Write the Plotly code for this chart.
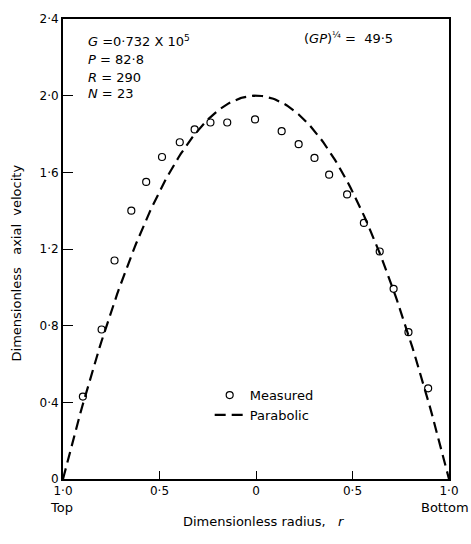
import numpy as np
import plotly.graph_objects as go

# Measured points (signed radius: negative = top side, positive = bottom side)
r_measured = [-0.897, -0.80, -0.733, -0.646, -0.569, -0.487, -0.395, -0.318, -0.236, -0.149,
              -0.005, 0.133, 0.221, 0.303, 0.379, 0.472, 0.559, 0.641, 0.713, 0.790, 0.892]
u_measured = [0.43, 0.78, 1.14, 1.40, 1.55, 1.68, 1.757, 1.824, 1.86, 1.86,
              1.876, 1.815, 1.747, 1.675, 1.588, 1.485, 1.336, 1.187, 0.992, 0.766, 0.473]

# Parabolic profile sample points
r_parab = list(np.linspace(-1, 1, 201))
u_parab = [2 * (1 - r * r) for r in r_parab]

x_tickvals = [-1.0, -0.5, 0.0, 0.5, 1.0]
x_ticktext = ["1·0", "0·5", "0", "0·5", "1·0"]
y_tickvals = [0, 0.4, 0.8, 1.2, 1.6, 2.0, 2.4]
y_ticktext = ["0", "0·4", "0·8", "1·2", "1·6", "2·0", "2·4"]

FONT = "DejaVu Sans"

fig = go.Figure()
fig.add_trace(go.Scatter(
    x=r_measured, y=u_measured, mode="markers", name="Measured",
    marker=dict(symbol="circle-open", size=7, color="black", line=dict(width=1.2)),
))
fig.add_trace(go.Scatter(
    x=r_parab, y=u_parab, mode="lines", name="Parabolic",
    line=dict(color="black", width=2.2, dash="11px,6px"),
))

fig.update_layout(
    width=471, height=544,
    margin=dict(l=63, r=18, t=12, b=65),
    paper_bgcolor="white", plot_bgcolor="white",
    font=dict(family=FONT, size=12, color="black"),
    showlegend=True,
    legend=dict(x=0.38, y=0.215, xanchor="left", yanchor="top",
                bgcolor="rgba(0,0,0,0)", font=dict(size=13), itemwidth=30,
                tracegroupgap=0),
    xaxis=dict(range=[-1, 1], tickvals=x_tickvals, ticktext=x_ticktext,
               ticks="inside", ticklen=8, tickwidth=1, tickcolor="black",
               showline=True, linecolor="black", linewidth=2, mirror=True,
               showgrid=False, zeroline=False, tickfont=dict(size=12)),
    yaxis=dict(range=[0, 2.4], tickvals=y_tickvals, ticktext=y_ticktext,
               ticks="inside", ticklen=10, tickwidth=1, tickcolor="black",
               showline=True, linecolor="black", linewidth=2, mirror=True,
               showgrid=False, zeroline=False, tickfont=dict(size=12)),
)

ann = [
    dict(x=0.06, y=0.953, text="<i>G</i> =0·732 X 10<sup>5</sup>", xanchor="left"),
    dict(x=0.06, y=0.911, text="<i>P</i> = 82·8", xanchor="left"),
    dict(x=0.06, y=0.873, text="<i>R</i> = 290", xanchor="left"),
    dict(x=0.06, y=0.837, text="<i>N</i> = 23", xanchor="left"),
    dict(x=0.62, y=0.958, text="(<i>GP</i>)<sup>¼</sup> =  49·5", xanchor="left"),
]
for a in ann:
    fig.add_annotation(xref="paper", yref="paper", showarrow=False,
                       yanchor="middle", font=dict(size=13), **a)

fig.add_annotation(xref="paper", yref="paper", x=-0.005, y=-0.062, text="Top",
                   showarrow=False, xanchor="center", yanchor="middle", font=dict(size=13))
fig.add_annotation(xref="paper", yref="paper", x=0.99, y=-0.062, text="Bottom",
                   showarrow=False, xanchor="center", yanchor="middle", font=dict(size=13))
fig.add_annotation(xref="paper", yref="paper", x=0.52, y=-0.092,
                   text="Dimensionless radius,   <i>r</i>",
                   showarrow=False, xanchor="center", yanchor="middle", font=dict(size=13))
fig.add_annotation(xref="paper", yref="paper", x=-0.12, y=0.47,
                   text="Dimensionless   axial  velocity", textangle=-90,
                   showarrow=False, xanchor="center", yanchor="middle", font=dict(size=13))

fig.write_html("out.html")
